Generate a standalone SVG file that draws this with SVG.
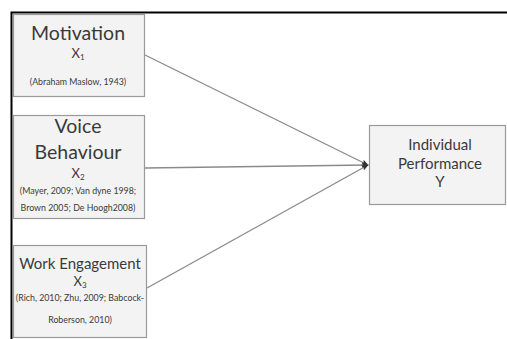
<svg xmlns="http://www.w3.org/2000/svg" width="507" height="339" viewBox="0 0 507 339">
<defs>
<style>
.box{fill:#f3f3f3;stroke:#9a9a9a;stroke-width:1.2}
text{font-family:Lato,"Open Sans","Liberation Sans",sans-serif;fill:#3a3a3a;text-anchor:middle}
.big{font-size:19.5px}
.mid{font-size:15px}
.perf{font-size:15px}
.sub{font-size:13px}
.sm{font-size:8.8px}
.con{stroke:#8a8a8a;stroke-width:1.3;fill:none}
</style>
<marker id="ah" viewBox="0 0 10 10" refX="9" refY="5" markerWidth="7" markerHeight="7" markerUnits="userSpaceOnUse" orient="auto">
<path d="M0,1 L10,5 L0,9 L2,5 Z" fill="#333"/>
</marker>
</defs>
<rect width="507" height="339" fill="#fff"/>
<path d="M11.5,339 V12.5 H507" fill="none" stroke="#000" stroke-width="2"/>
<g id="motivation">
<rect class="box" x="13.5" y="14.5" width="131" height="82"/>
<text class="big" x="78" y="40">Motivation</text>
<text class="sub" x="78" y="58">X<tspan font-size="8" dy="2">1</tspan></text>
<text class="sm" x="78" y="85">(Abraham Maslow, 1943)</text>
</g>
<g id="voice">
<rect class="box" x="13.5" y="115.5" width="131" height="103"/>
<text class="big" x="78" y="133">Voice</text>
<text class="big" x="78" y="159">Behaviour</text>
<text class="sub" x="78" y="178">X<tspan font-size="8" dy="2">2</tspan></text>
<text class="sm" x="78" y="194">(Mayer, 2009; Van dyne 1998;</text>
<text class="sm" x="78" y="211">Brown 2005; De Hoogh2008)</text>
</g>
<g id="work">
<rect class="box" x="13.5" y="245.5" width="133" height="92"/>
<text class="mid" x="80" y="269">Work Engagement</text>
<text class="sub" x="80" y="286">X<tspan font-size="8" dy="2">3</tspan></text>
<text class="sm" x="80" y="301">(Rich, 2010; Zhu, 2009; Babcock-</text>
<text class="sm" x="80" y="323">Roberson, 2010)</text>
</g>
<g id="performance">
<rect class="box" x="369.5" y="125.5" width="136" height="79"/>
<text class="perf" x="440" y="150">Individual</text>
<text class="perf" x="440" y="169">Performance</text>
<text class="perf" x="440" y="187">Y</text>
</g>
<g id="connectors">
<line class="con" x1="145" y1="55" x2="368" y2="165" marker-end="url(#ah)"/>
<line class="con" x1="145" y1="168" x2="368" y2="165" marker-end="url(#ah)"/>
<line class="con" x1="147" y1="288" x2="368" y2="165" marker-end="url(#ah)"/>
</g>
</svg>
